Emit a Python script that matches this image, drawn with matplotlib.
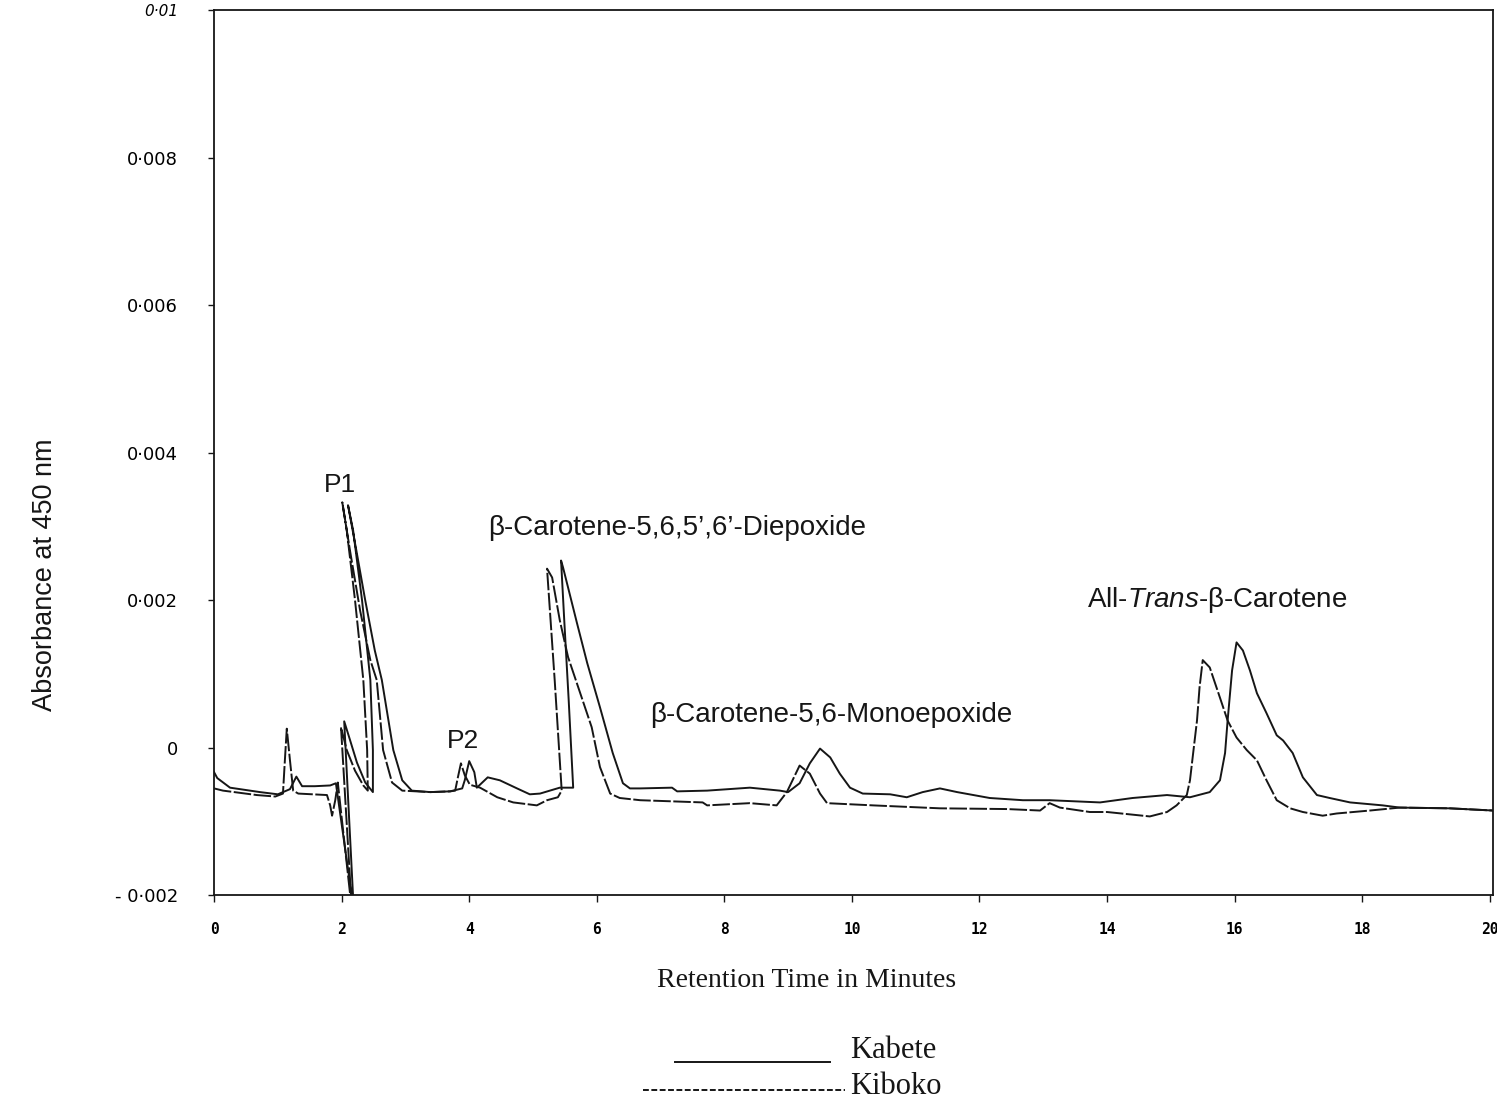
#!/usr/bin/env python3
# HPLC chromatogram of beta-carotene isomers, Kabete vs Kiboko samples
import matplotlib
matplotlib.use('Agg')
import matplotlib.pyplot as plt

plt.rcParams['mathtext.fontset'] = 'custom'
plt.rcParams['mathtext.rm'] = 'Liberation Sans'
plt.rcParams['mathtext.it'] = 'Liberation Sans:italic'

### --- Data --- ###
# Kabete (solid): retention time (min), absorbance at 450 nm
kabete_t = [0.00, 0.05, 0.25, 0.72, 1.00, 1.19, 1.29, 1.38, 1.58, 1.82, 1.91,
	2.19, 2.04, 2.13, 2.24, 2.37, 2.49, 2.49, 2.45, 2.32, 2.18, 2.10,
	2.23, 2.37, 2.52, 2.63, 2.81, 2.95, 3.10, 3.39, 3.70, 3.89, 3.93, 4.00,
	4.08, 4.12, 4.29, 4.48, 4.75, 4.95, 5.11, 5.42, 5.63, 5.56, 5.49, 5.44,
	5.47, 5.69, 5.85, 6.05, 6.25, 6.41, 6.52, 6.68, 7.18, 7.26, 7.73, 8.40,
	8.87, 9.00, 9.18, 9.34, 9.50, 9.66, 9.81, 9.97, 10.17, 10.60, 10.86,
	11.11, 11.38, 11.65, 12.16, 12.68, 13.10, 13.89, 14.40, 14.94, 15.30,
	15.61, 15.77, 15.85, 15.89, 15.96, 16.03, 16.13, 16.24, 16.35, 16.50,
	16.66, 16.76, 16.91, 17.07, 17.29, 17.49, 17.81, 18.32, 18.59, 19.37, 20.05]
kabete_a = [-0.00033, -0.00041, -0.00054, -0.00060, -0.00063, -0.00056, -0.00039,
	-0.00052, -0.00052, -0.00051, -0.00048,
	-0.00220, 0.00036, 0.00011, -0.00020, -0.00047, -0.00060, -0.00003, 0.00092,
	0.00200, 0.00295, 0.00329,
	0.00268, 0.00200, 0.00132, 0.00092, -0.00003, -0.00044, -0.00058, -0.00060,
	-0.00059, -0.00055, -0.00044, -0.00018,
	-0.00033, -0.00054, -0.00040, -0.00044, -0.00055, -0.00063, -0.00062, -0.00054,
	-0.00054, 0.00064, 0.00173, 0.00254,
	0.00245, 0.00169, 0.00115, 0.00055, -0.00007, -0.00048, -0.00055, -0.00055,
	-0.00054, -0.00059, -0.00058, -0.00054,
	-0.00058, -0.00060, -0.00048, -0.00021, -0.00001, -0.00013, -0.00035, -0.00054,
	-0.00062, -0.00063, -0.00067,
	-0.00060, -0.00055, -0.00060, -0.00068, -0.00071, -0.00071, -0.00074, -0.00068,
	-0.00064, -0.00067,
	-0.00060, -0.00044, -0.00007, 0.00037, 0.00105, 0.00143, 0.00132, 0.00105,
	0.00074, 0.00047,
	0.00017, 0.00010, -0.00007, -0.00040, -0.00064, -0.00068, -0.00074, -0.00078,
	-0.00081, -0.00082, -0.00085]

# Kiboko (dashed)
kiboko_t = [0.00, 0.14, 0.67, 0.96, 1.08, 1.11, 1.14, 1.19, 1.24, 1.32, 1.77,
	1.82, 1.85, 1.90, 1.94, 2.16, 1.99, 2.08, 2.21, 2.34, 2.41, 2.40, 2.34,
	2.21, 2.08, 2.01, 2.13, 2.29, 2.45, 2.55, 2.65, 2.79, 2.95, 3.39, 3.70,
	3.78, 3.82, 3.87, 3.93, 4.01, 4.17, 4.44, 4.69, 5.06, 5.22, 5.39, 5.45,
	5.34, 5.22, 5.30, 5.42, 5.55, 5.78, 5.92, 6.05, 6.21, 6.36, 6.68, 7.66,
	7.73, 8.40, 8.82, 8.98, 9.18, 9.34, 9.50, 9.61, 10.33, 11.38, 12.43,
	12.95, 13.10, 13.26, 13.73, 14.00, 14.67, 14.94, 15.09, 15.25, 15.30,
	15.35, 15.41, 15.45, 15.50, 15.61, 15.77, 15.89, 16.03, 16.19, 16.35,
	16.50, 16.66, 16.87, 17.07, 17.38, 17.60, 18.12, 18.59, 19.37, 20.05]
kiboko_a = [-0.00055, -0.00058, -0.00064, -0.00066, -0.00062, -0.00017, 0.00026,
	-0.00017, -0.00058, -0.00062, -0.00064,
	-0.00078, -0.00092, -0.00071, -0.00047, -0.00220, 0.00028, -0.00003, -0.00031,
	-0.00051, -0.00058, -0.00003, 0.00092,
	0.00200, 0.00295, 0.00333, 0.00268, 0.00186, 0.00119, 0.00092, -0.00003,
	-0.00047, -0.00058, -0.00060, -0.00059,
	-0.00058, -0.00041, -0.00021, -0.00037, -0.00050, -0.00054, -0.00067, -0.00074,
	-0.00078, -0.00071, -0.00067, -0.00058,
	0.00092, 0.00243, 0.00231, 0.00173, 0.00123, 0.00064, 0.00028, -0.00026,
	-0.00062, -0.00068, -0.00071, -0.00074,
	-0.00078, -0.00075, -0.00078, -0.00060, -0.00024, -0.00035, -0.00062, -0.00075,
	-0.00078, -0.00082, -0.00083,
	-0.00085, -0.00075, -0.00081, -0.00087, -0.00087, -0.00093, -0.00087, -0.00078,
	-0.00064, -0.00044,
	-0.00007, 0.00037, 0.00082, 0.00119, 0.00109, 0.00068, 0.00037, 0.00014,
	-0.00003, -0.00017,
	-0.00044, -0.00071, -0.00082, -0.00087, -0.00092, -0.00089, -0.00085, -0.00081,
	-0.00082, -0.00085]

# Axis ticks
xticks = [0, 2, 4, 6, 8, 10, 12, 14, 16, 18, 20]
xticklabels = ['0', '2', '4', '6', '8', '10', '12', '14', '16', '18', '20']
yticks = [-0.002, 0.0, 0.002, 0.004, 0.006, 0.008, 0.01]
yticklabels = ['- 0\u00b7002', '0', '0\u00b7002', '0\u00b7004', '0\u00b7006', '0\u00b7008', '0\u00b701']

# Peak labels: (text, t, absorbance, horizontal alignment, size)
peak_labels = [
	('P1', 1.97, 0.00356, 'center', 19),
	('P2', 3.90, 0.00009, 'center', 19),
	('\u03b2-Carotene-5,6,5\u2019,6\u2019-Diepoxide', 4.29, 0.00298, 'left', 20),
	('\u03b2-Carotene-5,6-Monoepoxide', 6.83, 0.00045, 'left', 20),
	('All-$\\mathit{Trans}$-\u03b2-Carotene', 13.68, 0.00200, 'left', 20),
]


### --- Plot --- ###
F = plt.figure(figsize=(14.97, 11.04), dpi=100)
ax = F.add_axes([0.143, 0.189, 0.8543, 0.8016])

ink = '#161616'
ax.plot(kabete_t, kabete_a, color=ink, lw=1.4, solid_joinstyle='round')
ax.plot(kiboko_t, kiboko_a, color=ink, lw=1.4, dashes=(9, 1.3))

ax.set_xlim(0, 20.05)
ax.set_ylim(-0.002, 0.01)

ax.set_xticks(xticks)
ax.set_xticklabels(xticklabels, family='DejaVu Sans Mono', fontweight='bold', fontsize=10.5)
ax.set_yticks(yticks)
ax.set_yticklabels(yticklabels, family='DejaVu Sans', fontsize=13)
ax.get_yticklabels()[-1].set_style('italic')
ax.get_yticklabels()[-1].set_fontsize(11)
ax.tick_params(axis='x', direction='out', length=5, width=1, pad=14, color=ink)
ax.tick_params(axis='y', direction='out', length=4, width=1, pad=22, color=ink)
for s in ax.spines.values():
	s.set_linewidth(1.3)
	s.set_color(ink)

for txt, t, a, ha, fs in peak_labels:
	ax.text(t, a, txt, ha=ha, va='center', fontsize=fs, family='Liberation Sans', color=ink)

# Axis titles
F.text(0.030, 0.479, 'Absorbance at 450 nm', rotation=90, ha='center', va='center',
	fontsize=19.5, family='Liberation Sans', color=ink)
F.text(0.539, 0.112, 'Retention Time in Minutes', ha='center', va='center',
	fontsize=20, family='Liberation Serif', color=ink)

## Legend (drawn by hand like the original)
F.add_artist(plt.Line2D([675/1497, 830/1497], [1-1062/1104, 1-1062/1104],
	color=ink, lw=1.4, transform=F.transFigure))
F.add_artist(plt.Line2D([643/1497, 845/1497], [1-1090/1104, 1-1090/1104],
	color=ink, lw=1.4, dashes=(3, 1.3), transform=F.transFigure))
F.text(850/1497, 1-1050/1104, 'Kabete', ha='left', va='center', fontsize=22,
	family='Liberation Serif', color=ink)
F.text(850/1497, 1-1087/1104, 'Kiboko', ha='left', va='center', fontsize=22,
	family='Liberation Serif', color=ink)

F.savefig('out.png', dpi=100)
